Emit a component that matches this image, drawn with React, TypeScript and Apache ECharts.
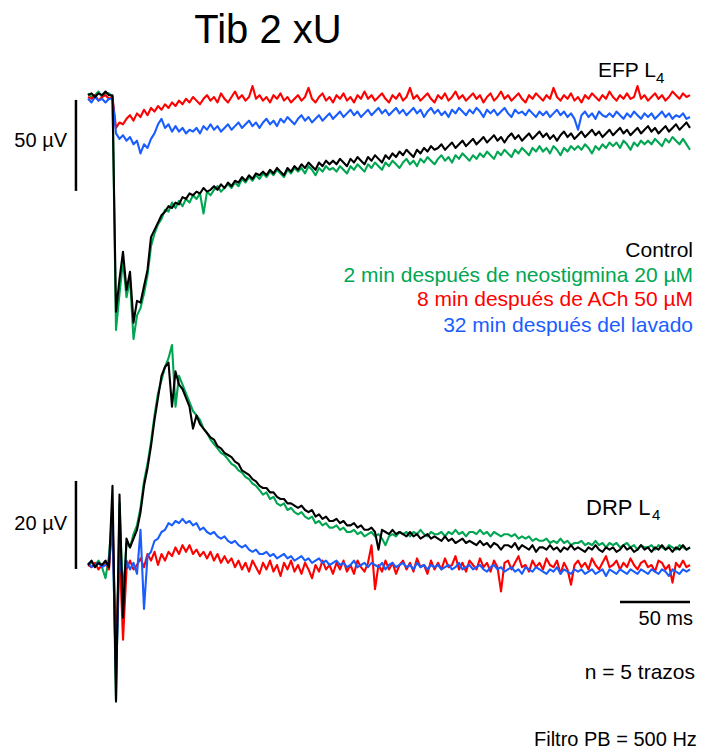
import { useEffect, useRef } from "react";
import * as echarts from "echarts";

// sampling step of the traces (ms)
const DT_MS = 2.5;

// ---------- EFP L4 (µV) ----------
const efpControl = [
  1, 2, 0, 2, 1, 3, 1, 1, -118, -100,
  -85, -106, -96, -124, -112, -113, -104, -95, -77, -73,
  -69, -65, -63, -60, -61, -58, -59, -55, -56, -53,
  -54, -52, -53, -50, -52, -51, -49, -51, -48, -50,
  -47, -49, -46, -47, -44, -46, -43, -45, -42, -43,
  -41, -43, -40, -42, -39, -41, -43, -39, -41, -38,
  -40, -37, -39, -36, -38, -40, -36, -38, -35, -37,
  -35, -37, -34, -36, -38, -34, -36, -33, -35, -37,
  -33, -35, -32, -34, -36, -32, -34, -31, -33, -30,
  -32, -29, -31, -33, -29, -31, -28, -30, -27, -29,
  -28, -26, -29, -27, -25, -28, -26, -24, -27, -25,
  -23, -26, -24, -22, -25, -23, -21, -24, -22, -25,
  -22, -20, -23, -21, -24, -22, -20, -23, -21, -19,
  -22, -20, -23, -21, -24, -21, -19, -22, -20, -23,
  -21, -19, -22, -20, -18, -21, -19, -22, -20, -18,
  -21, -19, -17, -20, -18, -21, -19, -17, -20, -18,
  -16, -19, -17, -20, -18, -16, -19, -17, -15, -18,
  -16, -14, -17,
];
const efpNeostigmine = [
  2, 0, 1, 3, 0, 2, 2, 0, -128, -108,
  -90, -110, -100, -133, -120, -116, -108, -98, -82, -75,
  -70, -67, -62, -63, -58, -61, -57, -60, -56, -58,
  -54, -56, -53, -64, -52, -54, -51, -49, -52, -50,
  -48, -50, -47, -49, -45, -47, -44, -46, -43, -45,
  -42, -44, -41, -43, -40, -42, -44, -40, -42, -39,
  -41, -39, -42, -38, -40, -43, -39, -41, -38, -40,
  -39, -41, -38, -40, -42, -38, -40, -37, -39, -41,
  -37, -39, -36, -38, -40, -36, -38, -35, -37, -39,
  -36, -34, -37, -35, -38, -34, -36, -33, -35, -37,
  -34, -32, -35, -33, -36, -32, -34, -31, -33, -35,
  -32, -34, -31, -33, -30, -32, -34, -30, -32, -29,
  -31, -33, -29, -31, -28, -30, -32, -28, -30, -27,
  -30, -28, -31, -27, -29, -32, -28, -30, -27, -29,
  -27, -29, -26, -28, -31, -27, -29, -26, -28, -25,
  -27, -25, -28, -24, -26, -29, -25, -27, -24, -26,
  -24, -26, -23, -25, -27, -23, -25, -22, -24, -26,
  -23, -26, -29,
];
const efpACh = [
  0, -1, 1, -2, 0, 1, -1, 0, -17, -14,
  -15, -12, -10, -13, -9, -11, -7, -10, -6, -8,
  -5, -7, -4, -6, -3, -5, -2, -4, -1, -3,
  0, -2, -4, -1, 1, -2, 0, -3, 2, -1,
  -3, 0, 3, -1, 1, -2, 0, 6, -1, 1,
  -2, 0, -3, 1, -1, 2, -2, 0, -3, -1,
  1, -2, 0, 5, -1, -3, 0, 2, -2, 0,
  -3, 1, -1, 2, -2, 0, -3, 1, -1, 3,
  -1, 1, -2, 0, 2, -1, -3, 1, -1, 2,
  -2, 0, 5, -1, 1, -2, 0, 2, -1, -3,
  1, -1, 2, -2, 0, 3, -1, 1, -2, 0,
  2, -1, 1, -3, 0, 2, -2, 0, 3, -1,
  1, -2, 0, 2, -1, -3, 1, -1, 2, 0,
  -2, 1, -1, 5, 0, -2, 1, -1, 2, -2,
  0, -3, 1, -1, 2, 0, -2, 1, -1, 3,
  0, -2, 1, -1, 2, -1, 0, 6, -1, 1,
  -2, 0, 2, -1, 1, -2, 0, 3, 1, -1,
  2, 0, 1,
];
const efpWash = [
  -1, -3, 0, -2, -1, -3, -1, -1, -20, -23,
  -21, -24, -22, -26, -24, -31, -26, -28, -23, -20,
  -15, -12, -17, -15, -19, -16, -19, -17, -20, -18,
  -19, -17, -20, -16, -18, -15, -18, -16, -19, -17,
  -15, -18, -16, -14, -17, -15, -13, -16, -14, -17,
  -14, -12, -15, -13, -16, -12, -14, -11, -13, -15,
  -12, -10, -13, -11, -14, -12, -10, -13, -11, -9,
  -12, -10, -8, -11, -9, -7, -10, -8, -11, -9,
  -7, -10, -8, -6, -9, -7, -10, -8, -6, -9,
  -7, -10, -8, -6, -9, -7, -11, -8, -6, -9,
  -7, -10, -8, -11, -7, -9, -6, -8, -10, -7,
  -9, -6, -8, -11, -7, -9, -7, -10, -8, -6,
  -9, -11, -7, -9, -8, -10, -7, -9, -11, -8,
  -10, -8, -11, -9, -7, -10, -8, -11, -9, -12,
  -18, -10, -8, -11, -9, -12, -8, -10, -11, -9,
  -11, -8, -10, -12, -9, -11, -8, -10, -12, -9,
  -11, -9, -12, -10, -8, -11, -9, -12, -10, -11,
  -9, -12, -11,
];

// ---------- DRP L4 (µV) ----------
const drpControl = [
  0, 1, -0.5, 0.5, 0, 1, -0.5, 18, -31, 16,
  -12, 6, 4, 6, 8, 12, 18, 22, 27, 33,
  38, 43, 45, 46, 36, 44, 41, 40, 38, 36,
  31, 34, 32, 31, 30, 29, 28.5, 27, 26.5, 25.5,
  25, 24.5, 23.5, 23, 21.5, 21, 20.5, 19.5, 19, 18,
  17.5, 17.5, 16.5, 16.5, 15.5, 15, 15, 14, 14, 13.5,
  13, 13.5, 12.5, 12, 12.5, 11, 11.5, 10.5, 11, 10,
  10, 10.5, 9.5, 10, 9, 9, 9.5, 8.5, 9, 8,
  8, 8.5, 7.5, 3.5, 8, 7.5, 7, 8, 7, 7.5,
  7, 6.5, 7.5, 6.5, 7, 6, 6.5, 7, 6, 6.5,
  6, 5.5, 6.5, 5.5, 6, 5, 5.5, 6, 5, 5.5,
  5, 4.5, 5.5, 4.5, 5, 4, 5, 4.5, 3.5, 4.5,
  4.5, 4, 5, 3.5, 4.5, 4, 3.5, 4.5, 3, 4,
  4, 3.5, 4.5, 3.5, 4, 3, 4, 3.5, 4.5, 3.5,
  4, 3.5, 3, 4, 3.5, 4.5, 3.5, 3, 4, 3.5,
  4, 3, 3.5, 4.5, 3.5, 4, 3, 3.5, 4.5, 3.5,
  4, 3, 4, 3.5, 4.5, 3.5, 4, 3, 4, 3.5,
  4.5, 3.5, 4,
];
const drpNeostigmine = [
  0, 0.5, 0, 1, -0.5, -3, 2, 12, -31, 14,
  -8, 5, 4, 7, 9, 13, 19, 23, 28, 34,
  39, 42, 45, 47, 50, 36, 43, 41, 39, 37,
  35, 34, 33, 31, 30, 28.5, 27.5, 26.5, 25.5, 25,
  24, 23, 22.5, 21.5, 21, 20, 19.5, 18.5, 18, 17,
  16, 16.5, 15, 15.5, 14, 13.5, 14, 12.5, 13, 12,
  11.5, 12, 11, 10.5, 11, 9.5, 10, 9, 9.5, 8.5,
  8.5, 9, 8, 8.5, 7.5, 7.5, 8, 7, 7.5, 6.5,
  7, 7.5, 6.5, 7, 6, 4.5, 6.5, 7, 6.5, 7.5,
  7, 7.5, 6.5, 7.5, 7, 8, 7, 6.5, 7.5, 7,
  7, 7.5, 6.5, 7.5, 7, 8, 7, 7.5, 6.5, 7.5,
  7.5, 7, 8, 7, 7.5, 6.5, 7.5, 7, 6.5, 7,
  7, 6.5, 7, 6, 6.5, 6, 6.5, 5.5, 6, 5.5,
  5.5, 6, 5, 5.5, 5, 6, 5, 5.5, 4.5, 5,
  5, 5.5, 4.5, 5, 4.5, 5.5, 4.5, 5, 4, 5,
  4.5, 5, 4, 4.5, 5, 4, 4.5, 3.5, 4.5, 4,
  4, 4.5, 3.5, 4.5, 4, 3.5, 4.5, 4, 3.5, 4.5,
  4, 3.5, 4,
];
const drpACh = [
  0, -0.5, 0.5, -1, 0, 0.5, -1, 11, -20, 4,
  -17, -1, 1, -1, 0, 1.5, -0.5, 2.5, 1, 3,
  0, 2.5, 1, 3, 2, 4, 2.5, 4.5, 3, 4.5,
  2.5, 3.5, 2, 3, 1.5, 3, 1, 2.5, 0.5, 2,
  0.5, 1.5, -0.5, 1, -1, 0.5, -1.5, 1, -0.5, -2,
  0.5, -1, 1, -1.5, 0, -2.5, 0.5, -1, 1, -1.5,
  0, -2, 0.5, -1, -3, 0, -1.5, 1, -1, 0,
  -2, 0.5, -1, 1, -1.5, 0, -2, 1, -0.5, -1.5,
  0.5, 4.5, -5.5, 0, -1.5, 1, -1, 0.5, -2, 0,
  1, -1, 0.5, -1.5, 1.5, -0.5, 0, -2, 1, -1,
  0.5, -1, 1.5, -0.5, 0, 2, -1, 0.5, -1.5, 1,
  0, -1, 1.5, -0.5, 0.5, -1.5, 1, -0.5, -6, 0.5,
  1, -1, 0.5, 2, -0.5, 0, -1.5, 1, -0.5, 0.5,
  -1, 1.5, 0, -0.5, 1, -2, 0.5, -1, -4.5, 0,
  1, -0.5, 0.5, -1, 1.5, 0, -1, 0.5, 2, -0.5,
  0, 1, -1, 0.5, -0.5, 1.5, 0, -1, 0.5, 1,
  -0.5, 0, -1.5, 1, 0.5, -1, 0, -4, 0.5, -0.5,
  1, -0.5, 0,
];
const drpWash = [
  0.5, -0.5, 0, 0.5, -0.5, 0, 0.5, 9, -26, 2,
  -4, 1, -1, 0.5, -2, 8, -10, 2, 3, 5.5,
  6, 7.5, 8, 9.5, 9, 10, 9.5, 10.5, 9.5, 10,
  9, 9.5, 8, 8.5, 7.5, 7, 7.5, 6.5, 6, 6.5,
  5.5, 5, 5.5, 4.5, 4, 4.5, 3.5, 3, 3.5, 2.5,
  2.5, 3, 2, 2.5, 1.5, 2, 2.5, 1.5, 2, 1,
  1.5, 2, 1, 1.5, 0.5, 1, 1.5, 0.5, 1, 0,
  0.5, 1, 0, 0.5, -0.5, 0, 1, -0.5, 0, 0.5,
  -0.5, 0.5, 0, -0.5, 0.5, -1, 0, 0.5, -0.5, 0,
  0.5, -0.5, 0, -1, 0.5, -0.5, 0, -1, 0, -0.5,
  0, -1, -0.5, 0, -1, -0.5, 0.5, -1, -0.5, 0,
  -1, -0.5, 0, -1, -1.5, -0.5, 0, -1, -0.5, -1.5,
  -1, -0.5, -1.5, -1, -2, -0.5, -1, -1.5, -0.5, -1,
  -1.5, -2, -1, -1.5, -0.5, -2, -1, -1.5, -2, -1,
  -1.5, -1, -2, -1.5, -1, -2, -1.5, -1, -2.5, -1,
  -1.5, -2, -1, -1.5, -2, -1, -1.5, -2, -1, -1.5,
  -2, -1, -1.5, -2, -1, -1.5, -2.5, -1, -1.5, -2,
  -1, -1.5, -1,
];

// scale bars (µV / ms) and where they sit
const SCALE_T = -8.6;
const efpScale = { from: -1.6, length: 50 };
const drpScale = { from: -0.9, length: 20 };
const timeScale = { end: 430, length: 50, level: -8.4 };

const legendTexts = [
  { text: "Control", color: "#000000" },
  { text: "2 min después de neostigmina 20 µM", color: "#00a651" },
  { text: "8 min después de ACh 50 µM", color: "#ff0000" },
  { text: "32 min después del lavado", color: "#1a5dff" },
];

const COLORS = { control: "#000000", neo: "#00a651", ach: "#ff0000", wash: "#1a5dff" };
const FONT = "'Liberation Sans', Arial, Helvetica, sans-serif";

function toPairs(values: number[]) {
  return values.map((v, i) => [i * DT_MS, v]);
}

function trace(name: string, values: number[], color: string, idx: number) {
  return {
    name,
    type: "line",
    xAxisIndex: idx,
    yAxisIndex: idx,
    data: toPairs(values),
    showSymbol: false,
    symbol: "none",
    silent: true,
    clip: false,
    lineStyle: { color, width: 2.1, join: "round" },
  };
}

function bar(data: number[][], idx: number) {
  return {
    type: "line",
    xAxisIndex: idx,
    yAxisIndex: idx,
    data,
    showSymbol: false,
    symbol: "none",
    silent: true,
    clip: false,
    lineStyle: { color: "#000", width: 2.5 },
  };
}

function txt(text: string, x: number, y: number, size: number, align: string, color = "#000") {
  return {
    type: "text",
    x,
    y,
    silent: true,
    style: { text, fill: color, fontSize: size, fontFamily: FONT, align, verticalAlign: "middle" },
  };
}

export default function App() {
  const ref = useRef<HTMLDivElement>(null);
  useEffect(() => {
    document.body.style.margin = "0";
    const chart = echarts.init(ref.current!, null, { renderer: "svg" });
    const gridLeft = 71.2;
    const gridWidth = 618.8;
    chart.setOption({
      animation: false,
      backgroundColor: "#ffffff",
      grid: [
        { left: gridLeft, width: gridWidth, top: 60.6, height: 291.2 },
        { left: gridLeft, width: gridWidth, top: 323, height: 396 },
      ],
      xAxis: [
        { type: "value", gridIndex: 0, min: -12, max: 430, show: false },
        { type: "value", gridIndex: 1, min: -12, max: 430, show: false },
      ],
      yAxis: [
        { type: "value", gridIndex: 0, min: -140, max: 20, show: false },
        { type: "value", gridIndex: 1, min: -35, max: 55, show: false },
      ],
      series: [
        trace("neo", efpNeostigmine, COLORS.neo, 0),
        trace("ach", efpACh, COLORS.ach, 0),
        trace("wash", efpWash, COLORS.wash, 0),
        trace("control", efpControl, COLORS.control, 0),
        trace("neo", drpNeostigmine, COLORS.neo, 1),
        trace("ach", drpACh, COLORS.ach, 1),
        trace("wash", drpWash, COLORS.wash, 1),
        trace("control", drpControl, COLORS.control, 1),
        bar([[SCALE_T, efpScale.from], [SCALE_T, efpScale.from - efpScale.length]], 0),
        bar([[SCALE_T, drpScale.from], [SCALE_T, drpScale.from + drpScale.length]], 1),
        bar([[timeScale.end - timeScale.length, timeScale.level], [timeScale.end, timeScale.level]], 1),
      ],
      graphic: [
        txt("Tib 2 xU", 268, 29, 40, "center"),
        txt("EFP L", 598, 69.7, 21, "left"),
        txt("4", 656, 77.8, 15, "left"),
        txt("50 µV", 67, 140, 20, "right"),
        ...legendTexts.map((l, i) => txt(l.text, 693, [249.7, 274.7, 298.7, 324.7][i], 21, "right", l.color)),
        txt("DRP L", 586, 507.4, 22, "left"),
        txt("4", 652, 514.8, 15, "left"),
        txt("20 µV", 67, 523, 20, "right"),
        txt("50 ms", 693, 618, 20, "right"),
        txt("n = 5 trazos", 695, 671.7, 21, "right"),
        txt("Filtro PB = 500 Hz", 534, 739, 20, "left"),
      ],
    });
    return () => chart.dispose();
  }, []);
  return (
    <div
      ref={ref}
      style={{ position: "absolute", left: 0, top: 0, width: 701, height: 752 }}
    />
  );
}
